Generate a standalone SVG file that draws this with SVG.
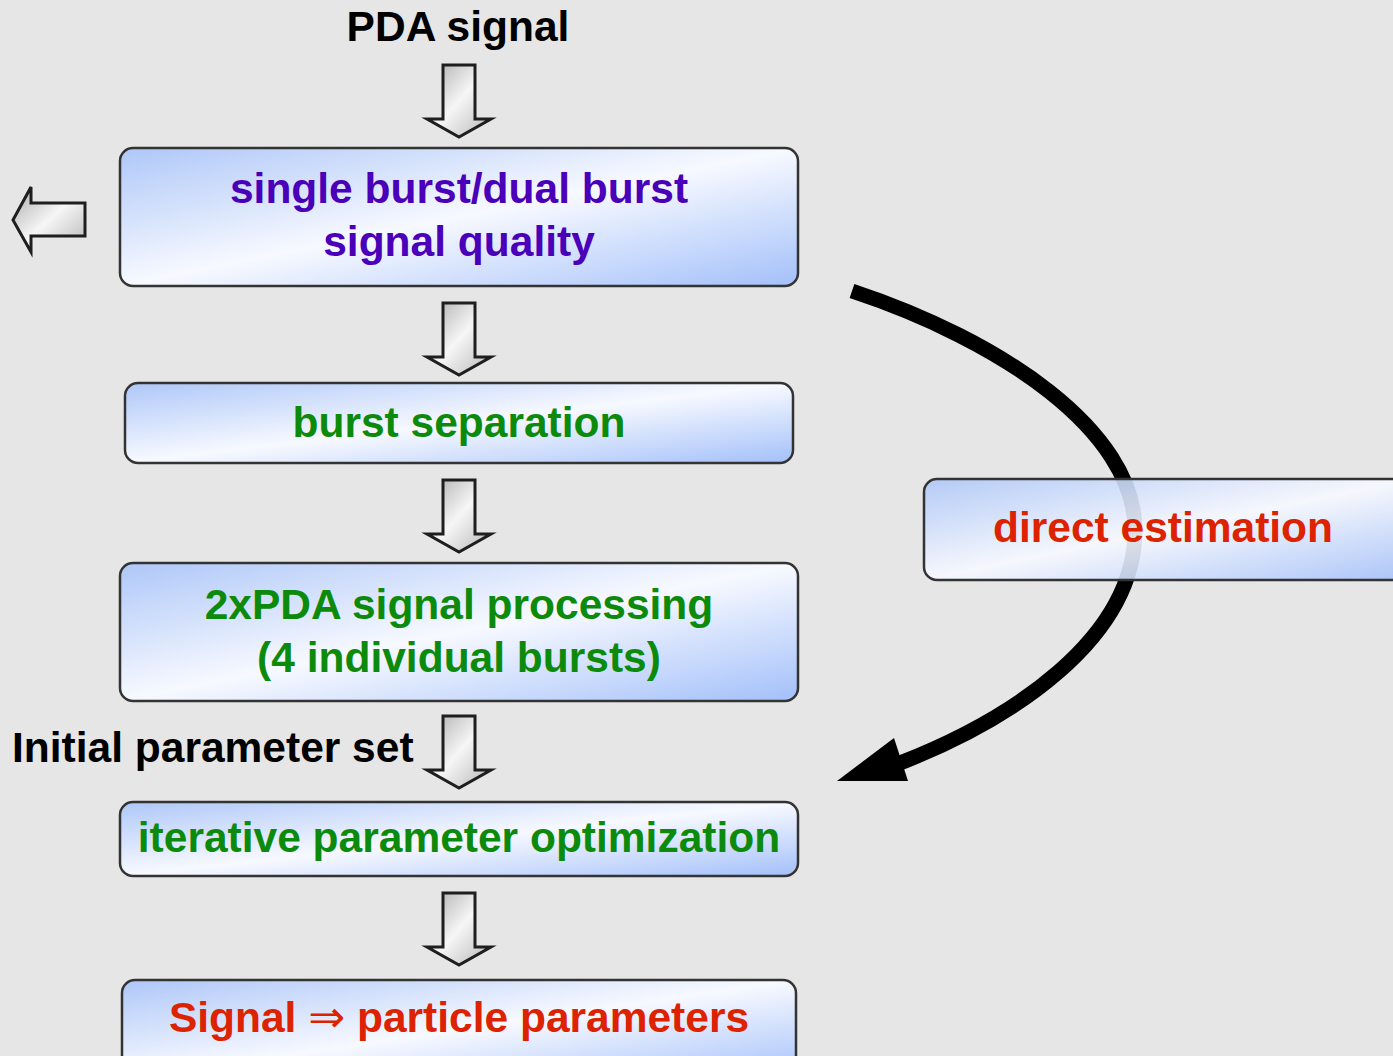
<svg xmlns="http://www.w3.org/2000/svg" width="1393" height="1056" viewBox="0 0 1393 1056">
<defs>
<linearGradient id="boxg" x1="0" y1="0" x2="1" y2="1">
<stop offset="0" stop-color="#aec7f8"/>
<stop offset="0.5" stop-color="#f7f9ff"/>
<stop offset="1" stop-color="#a3c0fa"/>
</linearGradient>
<linearGradient id="arrg" x1="0" y1="0" x2="1" y2="1">
<stop offset="0" stop-color="#a9a9a9"/>
<stop offset="0.5" stop-color="#f6f6f6"/>
<stop offset="1" stop-color="#b5b5b5"/>
</linearGradient>
<style>
.box{fill:url(#boxg);stroke:#333;stroke-width:2.5}
.barr{fill:url(#arrg);stroke:#1e1e1e;stroke-width:3;stroke-linejoin:miter}
.t{font-family:"Liberation Sans",Arial,sans-serif;font-weight:bold;font-size:42.5px;text-anchor:middle}
.purple{fill:#4a00b8}
.green{fill:#0c8a0c}
.red{fill:#dd2200}
.black{fill:#000}
</style>
<path id="down" d="M-16,0 H16 V54 H32 L0,72 L-32,54 H-16 Z"/>
</defs>
<rect width="1393" height="1056" fill="#e6e6e6"/>

<g id="title"><text class="t black" x="458" y="41">PDA signal</text></g>

<g id="connectors">
<use href="#down" class="barr" x="459" y="65"/>
<use href="#down" class="barr" x="459" y="303"/>
<use href="#down" class="barr" x="459" y="480"/>
<use href="#down" class="barr" x="459" y="716"/>
<use href="#down" class="barr" x="459" y="893"/>
<path class="barr" d="M85,203 V236 H31 V252 L13,220 L31,187 V203 Z"/>
<path d="M852,291 C1000,340 1135,430 1135,530 C1135,640 1010,720 900,763" fill="none" stroke="#000" stroke-width="15"/>
<polygon points="837,781 894,738 908,781" fill="#000"/>
</g>

<g id="node-quality">
<rect class="box" x="120" y="148" width="678" height="138" rx="13"/>
<text class="t purple" x="459" y="203">single burst/dual burst</text>
<text class="t purple" x="459" y="256">signal quality</text>
</g>

<g id="node-separation">
<rect class="box" x="125" y="383" width="668" height="80" rx="13"/>
<text class="t green" x="459" y="437">burst separation</text>
</g>

<g id="node-processing">
<rect class="box" x="120" y="563" width="678" height="138" rx="13"/>
<text class="t green" x="459" y="619">2xPDA signal processing</text>
<text class="t green" x="459" y="672">(4 individual bursts)</text>
</g>

<g id="label-initial"><text class="t black" x="12" y="762" style="text-anchor:start">Initial parameter set</text></g>

<g id="node-optimization">
<rect class="box" x="120" y="802" width="678" height="74" rx="13"/>
<text class="t green" x="459" y="852">iterative parameter optimization</text>
</g>

<g id="node-result">
<rect class="box" x="122" y="980" width="674" height="100" rx="13"/>
<text class="t red" x="459" y="1032">Signal <tspan style="font-weight:normal;font-family:'DejaVu Sans',sans-serif;font-size:44px">⇒</tspan> particle parameters</text>
</g>

<g id="node-direct">
<rect class="box" x="924" y="479" width="490" height="101" rx="13" fill-opacity="0.9"/>
<text class="t red" x="1163" y="542">direct estimation</text>
</g>
</svg>
